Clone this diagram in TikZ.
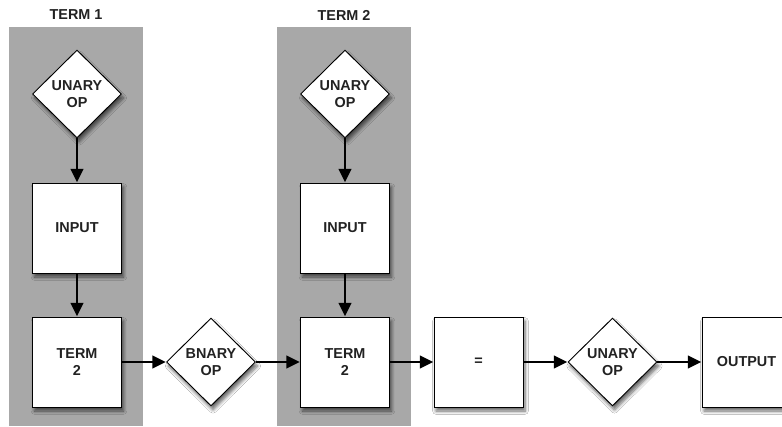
\documentclass[tikz,border=0pt]{standalone}
\usepackage{fontspec}
\setmainfont{Liberation Sans}
\usetikzlibrary{shapes.geometric,arrows.meta,shadows.blur}
\definecolor{panelgray}{RGB}{168,168,168}
\definecolor{textdark}{RGB}{34,34,34}
\tikzset{
  every node/.style={font=\fontsize{10.8}{12.5}\selectfont\bfseries, align=center, text=textdark},
  panel/.style={fill=panelgray, draw=none},
  shade/.style={blur shadow={shadow xshift=1.5pt, shadow yshift=-3pt, shadow blur steps=6, shadow blur radius=2.5pt, shadow opacity=60}},
  boxnode/.style={draw=black, line width=0.7pt, fill=white, minimum width=66.75pt, minimum height=67.5pt, inner sep=0pt, shade},
  decision/.style={diamond, draw=black, line width=0.7pt, fill=white, minimum width=66.75pt, minimum height=66pt, inner sep=0pt, shade},
  flow/.style={line width=1.6pt, -{Triangle[length=10pt,width=9.5pt]}, shorten >=0.3pt},
  paneltitle/.style={text=textdark}
}
\begin{document}
\begin{tikzpicture}[x=0.75pt,y=-0.75pt]
\useasboundingbox (0,0) rectangle (782,426);
\fill[white] (0,0) rectangle (782,426);
\fill[panel] (9,27) rectangle (143,426);
\fill[panel] (277,27) rectangle (411,426);
\node[paneltitle] (t1) at (76,15) {TERM 1};
\node[paneltitle] (t2) at (344,15) {TERM 2};

\node[decision] (u1) at (77,94) {UNARY\\OP};
\node[boxnode] (in1) at (77,228) {INPUT};
\node[boxnode] (tm1) at (77,362) {TERM\\2};

\node[decision] (b) at (211,362) {BNARY\\OP};

\node[decision] (u2) at (345,94) {UNARY\\OP};
\node[boxnode] (in2) at (345,228) {INPUT};
\node[boxnode] (tm2) at (345,362) {TERM\\2};

\node[boxnode] (eq) at (478.5,362) {=};
\node[decision] (u3) at (612.5,362) {UNARY\\OP};
\node[boxnode] (out) at (746.5,362) {OUTPUT};

\draw[flow] (u1) -- (in1);
\draw[flow] (in1) -- (tm1);
\draw[flow] (tm1) -- (b);
\draw[flow] (b) -- (tm2);
\draw[flow] (u2) -- (in2);
\draw[flow] (in2) -- (tm2);
\draw[flow] (tm2) -- (eq);
\draw[flow] (eq) -- (u3);
\draw[flow] (u3) -- (out);
\end{tikzpicture}
\end{document}
